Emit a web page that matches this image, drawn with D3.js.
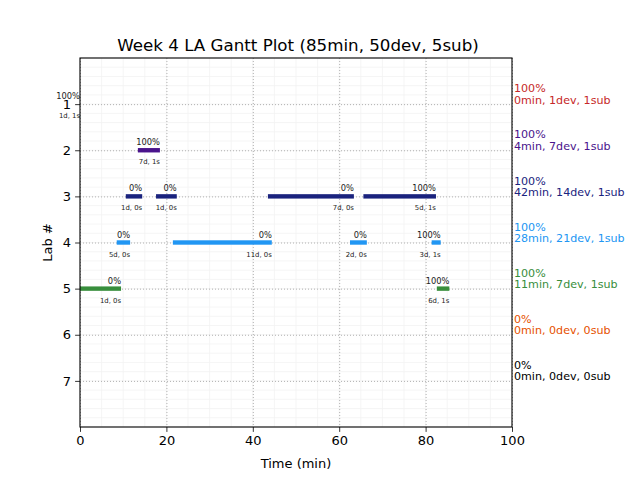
<!DOCTYPE html>
<html><head><meta charset="utf-8">
<script src="https://cdn.jsdelivr.net/npm/d3@7"></script>
<style>body{margin:0;background:#fff}svg{display:block;font-family:"DejaVu Sans",sans-serif}</style>
</head><body>
<svg id="c" width="640" height="480"></svg>
<script>
const title = "Week 4 LA Gantt Plot (85min, 50dev, 5sub)";
const labs = [1,2,3,4,5,6,7];
const labColors = ["#c62828","#4a148c","#1a237e","#2196f3","#388e3c","#e65100","#000000"];
const summaryPct = ["100%","100%","100%","100%","100%","0%","0%"];
const summaryText = ["0min, 1dev, 1sub","4min, 7dev, 1sub","42min, 14dev, 1sub","28min, 21dev, 1sub","11min, 7dev, 1sub","0min, 0dev, 0sub","0min, 0dev, 0sub"];
const segLab   = [1,2,3,3,3,3,4,4,4,4,5,5];
const segStart = [0,13.4,10.6,17.6,43.5,65.6,8.5,21.5,62.5,81.4,0,82.6];
const segEnd   = [0,18.5,14.4,22.4,63.4,82.4,11.6,44.4,66.4,83.5,9.5,85.5];
const segPct   = ["100%","100%","0%","0%","0%","100%","0%","0%","0%","100%","0%","100%"];
const segInfo  = ["1d, 1s","7d, 1s","1d, 0s","1d, 0s","7d, 0s","5d, 1s","5d, 0s","11d, 0s","2d, 0s","3d, 1s","1d, 0s","6d, 1s"];
const xTicks = [0,20,40,60,80,100];

const svg = d3.select("#c");
const L=80,R=512,T=58,B=427;
const x = d3.scaleLinear().domain([0,100]).range([L,R]);
const y = d3.scaleLinear().domain([0,8]).range([T,B]);

// minor grid
const g = svg.append("g");
g.selectAll(".mx").data(d3.range(0,101,5)).enter().append("line")
 .attr("x1",d=>x(d)).attr("x2",d=>x(d)).attr("y1",T).attr("y2",B)
 .attr("stroke","#f2f2f2").attr("stroke-width",0.8);
g.selectAll(".my").data(d3.range(0,8.01,0.2)).enter().append("line")
 .attr("y1",d=>y(d)).attr("y2",d=>y(d)).attr("x1",L).attr("x2",R)
 .attr("stroke","#f2f2f2").attr("stroke-width",0.8);
// major grid
g.selectAll(".Mx").data(xTicks).enter().append("line")
 .attr("x1",d=>x(d)+0.5).attr("x2",d=>x(d)+0.5).attr("y1",T).attr("y2",B)
 .attr("stroke","#b0b0b0").attr("stroke-width",1).attr("stroke-dasharray","1,2");
g.selectAll(".My").data(labs).enter().append("line")
 .attr("y1",d=>y(d)+0.5).attr("y2",d=>y(d)+0.5).attr("x1",L).attr("x2",R)
 .attr("stroke","#b0b0b0").attr("stroke-width",1).attr("stroke-dasharray","1,2");

// bars
const segs = segLab.map((l,i)=>({lab:l,s:segStart[i],e:segEnd[i],p:segPct[i],info:segInfo[i]}));
svg.selectAll(".bar").data(segs).enter().append("rect")
 .attr("x",d=>x(d.s)).attr("width",d=>x(d.e)-x(d.s))
 .attr("y",d=>y(d.lab)-2.2).attr("height",4.4)
 .attr("fill",d=>labColors[d.lab-1]);
svg.selectAll(".pct").data(segs).enter().append("text")
 .attr("x",d=>x(d.e)).attr("y",d=>y(d.lab)-5).attr("text-anchor","end")
 .attr("font-size",8.3).attr("fill","#222").text(d=>d.p);
svg.selectAll(".inf").data(segs).enter().append("text")
 .attr("x",d=>x(d.e)).attr("y",d=>y(d.lab)+14).attr("text-anchor","end")
 .attr("font-size",6.9).attr("fill","#222").text(d=>d.info);

// frame
svg.append("rect").attr("x",L).attr("y",T).attr("width",R-L).attr("height",B-T)
 .attr("fill","none").attr("stroke","#000").attr("stroke-width",1.1);

// axes
const xa = svg.append("g").attr("transform",`translate(0,${B})`)
 .call(d3.axisBottom(x).tickValues(xTicks).tickSize(4.9).tickPadding(4));
const ya = svg.append("g").attr("transform",`translate(${L},0)`)
 .call(d3.axisLeft(y).tickValues(labs).tickSize(4.9).tickPadding(4));
[xa,ya].forEach(a=>{a.select(".domain").remove();
 a.selectAll("text").attr("font-family","DejaVu Sans").attr("font-size",13).attr("fill","#000");
 a.selectAll("line").attr("stroke","#000").attr("stroke-width",0.8);});

// right summary
labs.forEach((l,i)=>{
 svg.append("text").attr("x",514).attr("y",y(l)-11.8).attr("font-size",11.1).attr("fill",labColors[i]).text(summaryPct[i]);
 svg.append("text").attr("x",514).attr("y",y(l)-0.5).attr("font-size",11.1).attr("fill",labColors[i]).text(summaryText[i]);
});

svg.append("text").attr("x",(L+R)/2+2).attr("y",51).attr("text-anchor","middle").attr("font-size",16.7).text(title);
svg.append("text").attr("x",(L+R)/2).attr("y",468).attr("text-anchor","middle").attr("font-size",13).text("Time (min)");
svg.append("text").attr("transform",`translate(52,${(T+B)/2}) rotate(-90)`).attr("text-anchor","middle").attr("font-size",13).text("Lab #");
</script>
</body></html>
